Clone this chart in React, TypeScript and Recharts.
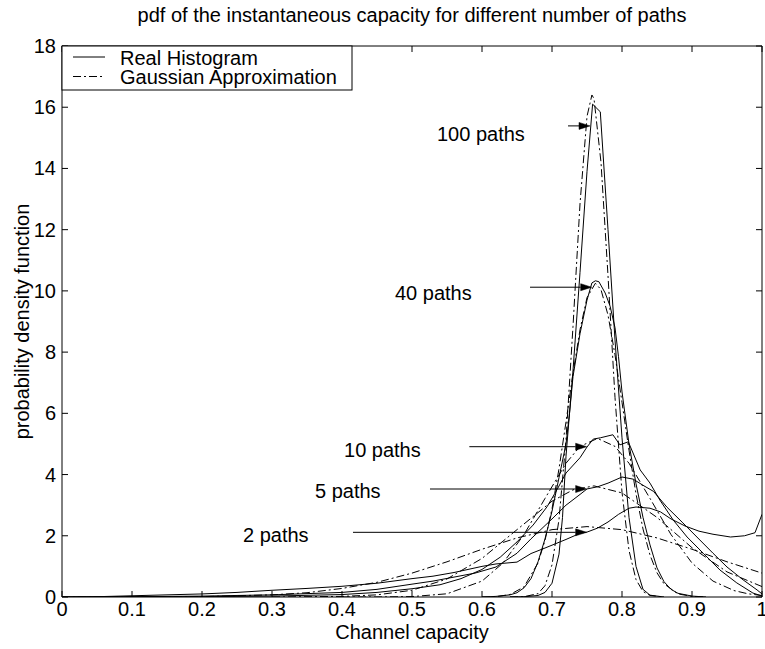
import React from 'react';
import { LineChart, Line, XAxis, YAxis, ReferenceLine, ReferenceDot } from 'recharts';

const FONT = '"Liberation Sans", Arial, Helvetica, sans-serif';

// ---------- texts / ticks ----------
const titleText = 'pdf of the instantaneous capacity for different number of paths';
const xLabelText = 'Channel capacity';
const yLabelText = 'probability density function';
const xTicks = [0, 0.1, 0.2, 0.3, 0.4, 0.5, 0.6, 0.7, 0.8, 0.9, 1];
const yTicks = [0, 2, 4, 6, 8, 10, 12, 14, 16, 18];
const legendItems = [
  { name: 'Real Histogram', dash: '' },
  { name: 'Gaussian Approximation', dash: '8 3 2 3' },
];

// ---------- real histograms (solid) ----------
const real2: [number, number][] = [
  [0, 0], [0.05, 0.01], [0.1, 0.04], [0.15, 0.07], [0.2, 0.1], [0.25, 0.15], [0.3, 0.22], [0.35, 0.28],
  [0.4, 0.35], [0.45, 0.45], [0.5, 0.6], [0.53, 0.68], [0.56, 0.8], [0.6, 1.0], [0.62, 1.08], [0.65, 1.14],
  [0.67, 1.42], [0.69, 1.6], [0.72, 1.88], [0.74, 2.08], [0.75, 2.12], [0.765, 2.25], [0.78, 2.45],
  [0.795, 2.7], [0.81, 2.9], [0.82, 2.94], [0.84, 2.9], [0.855, 2.78], [0.87, 2.55], [0.89, 2.32],
  [0.91, 2.15], [0.93, 2.05], [0.955, 1.96], [0.975, 2.0], [0.99, 2.1], [1.0, 2.7],
];
const real5: [number, number][] = [
  [0, 0], [0.1, 0.01], [0.2, 0.03], [0.3, 0.07], [0.4, 0.15], [0.45, 0.25], [0.5, 0.42], [0.53, 0.52],
  [0.56, 0.65], [0.59, 0.78], [0.62, 0.98], [0.65, 1.43], [0.67, 1.9], [0.7, 2.55], [0.72, 3.0],
  [0.74, 3.35], [0.75, 3.53], [0.765, 3.6], [0.78, 3.72], [0.8, 3.92], [0.816, 3.85], [0.83, 3.65],
  [0.845, 3.45], [0.864, 2.94], [0.887, 2.42], [0.907, 1.96], [0.93, 1.43], [0.95, 0.98], [0.973, 0.56],
  [0.993, 0.23], [1.0, 0.1],
];
const real10: [number, number][] = [
  [0, 0], [0.2, 0.01], [0.3, 0.03], [0.4, 0.08], [0.45, 0.15], [0.5, 0.27], [0.54, 0.4], [0.57, 0.6],
  [0.6, 0.9], [0.626, 1.3], [0.65, 1.8], [0.673, 2.35], [0.693, 2.95], [0.707, 3.5], [0.72, 4.05],
  [0.74, 4.55], [0.75, 4.9], [0.759, 5.16], [0.769, 5.2], [0.787, 5.3], [0.797, 4.97], [0.809, 5.07],
  [0.826, 4.15], [0.84, 3.72], [0.854, 3.17], [0.873, 2.52], [0.893, 1.96], [0.916, 1.43], [0.94, 0.88],
  [0.964, 0.46], [0.987, 0.13], [1.0, 0.03],
];
const real40: [number, number][] = [
  [0.6, 0], [0.62, 0.02], [0.64, 0.07], [0.65, 0.14], [0.66, 0.3], [0.67, 0.6], [0.68, 1.15], [0.69, 1.9],
  [0.7, 2.8], [0.71, 3.9], [0.72, 5.0], [0.725, 6.0], [0.73, 7.2], [0.74, 8.6], [0.75, 9.7], [0.757, 10.26],
  [0.762, 10.33], [0.767, 10.3], [0.776, 9.93], [0.783, 9.5], [0.79, 8.8], [0.795, 7.85], [0.8, 6.7],
  [0.81, 5.0], [0.82, 3.7], [0.83, 2.6], [0.84, 1.7], [0.85, 0.95], [0.86, 0.5], [0.87, 0.25], [0.88, 0.12],
  [0.9, 0.03], [0.92, 0],
];
const real100: [number, number][] = [
  [0.64, 0], [0.66, 0.01], [0.68, 0.05], [0.69, 0.15], [0.7, 0.45], [0.71, 1.4], [0.715, 2.6], [0.72, 4.6],
  [0.73, 7.4], [0.74, 10.6], [0.75, 13.9], [0.758, 16.1], [0.769, 15.85], [0.78, 12.0], [0.79, 8.4],
  [0.8, 5.2], [0.81, 2.6], [0.82, 1.0], [0.83, 0.25], [0.84, 0.06], [0.86, 0],
];

// ---------- gaussian approximations (dash-dot) ----------
const gauss2: [number, number][] = [
  [0, 0], [0.1, 0.002], [0.2, 0.012], [0.3, 0.07], [0.35, 0.14], [0.4, 0.28], [0.45, 0.48], [0.5, 0.78],
  [0.55, 1.15], [0.6, 1.56], [0.65, 1.93], [0.7, 2.2], [0.75, 2.3], [0.8, 2.2], [0.85, 1.93], [0.9, 1.56],
  [0.95, 1.15], [1.0, 0.78],
];
const gauss5: [number, number][] = [
  [0.3, 0], [0.4, 0.02], [0.45, 0.07], [0.5, 0.22], [0.55, 0.59], [0.6, 1.26], [0.65, 2.2], [0.7, 3.13],
  [0.73, 3.5], [0.76, 3.63], [0.8, 3.4], [0.85, 2.6], [0.9, 1.61], [0.95, 0.82], [1.0, 0.34],
];
const gauss10: [number, number][] = [
  [0.4, 0], [0.45, 0.001], [0.5, 0.014], [0.55, 0.105], [0.6, 0.52], [0.63, 1.11], [0.66, 2.04],
  [0.69, 3.22], [0.72, 4.37], [0.74, 4.92], [0.765, 5.18], [0.79, 4.92], [0.81, 4.37], [0.84, 3.22],
  [0.87, 2.04], [0.9, 1.11], [0.93, 0.52], [0.96, 0.21], [0.98, 0.105], [1.0, 0.05],
];
const gauss40: [number, number][] = [
  [0.6, 0], [0.62, 0.01], [0.64, 0.08], [0.66, 0.33], [0.68, 1.11], [0.69, 1.85], [0.7, 2.88], [0.71, 4.19],
  [0.72, 5.72], [0.73, 7.31], [0.74, 8.73], [0.75, 9.78], [0.762, 10.25], [0.77, 10.04], [0.78, 9.21],
  [0.79, 7.91], [0.8, 6.36], [0.81, 4.79], [0.82, 3.37], [0.83, 2.22], [0.84, 1.37], [0.85, 0.79],
  [0.86, 0.43], [0.88, 0.1], [0.9, 0.02], [0.92, 0],
];
const gauss100: [number, number][] = [
  [0.64, 0], [0.66, 0.01], [0.68, 0.11], [0.69, 0.37], [0.7, 1.05], [0.71, 2.53], [0.72, 5.14], [0.73, 8.84],
  [0.74, 12.84], [0.75, 15.7], [0.757, 16.4], [0.76, 16.28], [0.77, 14.2], [0.78, 10.5], [0.79, 6.52],
  [0.8, 3.42], [0.81, 1.52], [0.82, 0.57], [0.83, 0.18], [0.84, 0.05], [0.86, 0],
];

// ---------- annotations ----------
const annotationLabels = ['100 paths', '40 paths', '10 paths', '5 paths', '2 paths'];
const labelX = [0.5357, 0.4757, 0.4029, 0.3614, 0.2586];
const labelY = [14.9, 9.7, 4.574, 3.234, 1.797];
const arrowX1 = [0.7229, 0.6686, 0.5819, 0.5257, 0.4157];
const arrowX2 = [0.7543, 0.7567, 0.7495, 0.7495, 0.7495];
const arrowY = [15.39, 10.12, 4.91, 3.528, 2.113];

const DASH = '8 3 2 3';
const series = [
  { id: 'r2', pts: real2, dash: '' },
  { id: 'r5', pts: real5, dash: '' },
  { id: 'r10', pts: real10, dash: '' },
  { id: 'r40', pts: real40, dash: '' },
  { id: 'r100', pts: real100, dash: '' },
  { id: 'g2', pts: gauss2, dash: DASH },
  { id: 'g5', pts: gauss5, dash: DASH },
  { id: 'g10', pts: gauss10, dash: DASH },
  { id: 'g40', pts: gauss40, dash: DASH },
  { id: 'g100', pts: gauss100, dash: DASH },
];

const W = 765;
const H = 649;
// plot box: left 62, right 762, top 46, bottom 597 (axes take 1px each)
const MARGIN = { top: 45, right: 2, bottom: 51, left: 61 };
const TICK = 6;

const BottomTick = (p: any) => (
  <g>
    <line x1={p.x} y1={p.y} x2={p.x} y2={p.y - TICK} stroke="#000" strokeWidth={1} />
    <text x={p.x} y={p.y + 19} textAnchor="middle" fontSize={20} fontFamily={FONT} fill="#000">
      {String(p.payload.value)}
    </text>
  </g>
);
const TopTick = (p: any) => (
  <line x1={p.x} y1={p.y} x2={p.x} y2={p.y + TICK} stroke="#000" strokeWidth={1} />
);
const LeftTick = (p: any) => (
  <g>
    <line x1={p.x} y1={p.y} x2={p.x + TICK} y2={p.y} stroke="#000" strokeWidth={1} />
    <text x={p.x - 6} y={p.y + 7} textAnchor="end" fontSize={20} fontFamily={FONT} fill="#000">
      {String(p.payload.value)}
    </text>
  </g>
);
const RightTick = (p: any) => (
  <line x1={p.x} y1={p.y} x2={p.x - TICK} y2={p.y} stroke="#000" strokeWidth={1} />
);

const Arrow = (p: any) => {
  const { x1, y1, x2, y2 } = p;
  const dx = x2 - x1;
  const dy = y2 - y1;
  const len = Math.sqrt(dx * dx + dy * dy) || 1;
  const ux = dx / len;
  const uy = dy / len;
  const hl = 11;
  const hw = 3.5;
  const bx = x2 - ux * hl;
  const by = y2 - uy * hl;
  return (
    <g>
      <line x1={x1} y1={y1} x2={bx} y2={by} stroke="#000" strokeWidth={1} />
      <polygon
        points={`${x2},${y2} ${bx - uy * hw},${by + ux * hw} ${bx + uy * hw},${by - ux * hw}`}
        fill="#000"
        stroke="#000"
        strokeWidth={0.5}
      />
    </g>
  );
};

const axisCommon = {
  tickSize: 0,
  tickMargin: 0,
  tickLine: false,
  interval: 0 as const,
  axisLine: { stroke: '#000', strokeWidth: 1 },
  allowDataOverflow: true,
};

export default function App() {
  return (
    <div style={{ position: 'absolute', left: 0, top: 0, width: W, height: H, background: '#fff' }}>
      <LineChart width={W} height={H} margin={MARGIN}>
        <XAxis
          {...axisCommon}
          xAxisId="b"
          type="number"
          dataKey="x"
          domain={[0, 1]}
          ticks={xTicks}
          height={1}
          tick={(p: any) => <BottomTick {...p} />}
        />
        <XAxis
          {...axisCommon}
          xAxisId="t"
          orientation="top"
          type="number"
          dataKey="x"
          domain={[0, 1]}
          ticks={xTicks}
          height={1}
          tick={(p: any) => <TopTick {...p} />}
        />
        <YAxis
          {...axisCommon}
          yAxisId="l"
          type="number"
          domain={[0, 18]}
          ticks={yTicks}
          width={1}
          tick={(p: any) => <LeftTick {...p} />}
        />
        <YAxis
          {...axisCommon}
          yAxisId="r"
          orientation="right"
          type="number"
          domain={[0, 18]}
          ticks={yTicks}
          width={1}
          tick={(p: any) => <RightTick {...p} />}
        />
        {series.map((s) => (
          <Line
            key={s.id}
            xAxisId="b"
            yAxisId="l"
            data={s.pts.map(([x, y]) => ({ x, y }))}
            dataKey="y"
            type="linear"
            stroke="#000"
            strokeWidth={1}
            strokeDasharray={s.dash || undefined}
            dot={false}
            activeDot={false}
            isAnimationActive={false}
          />
        ))}
        {annotationLabels.map((t, i) => (
          <ReferenceLine
            key={'a' + i}
            xAxisId="b"
            yAxisId="l"
            segment={[
              { x: arrowX1[i], y: arrowY[i] },
              { x: arrowX2[i], y: arrowY[i] },
            ]}
            shape={(p: any) => <Arrow {...p} />}
          />
        ))}
        {annotationLabels.map((t, i) => (
          <ReferenceDot
            key={'l' + i}
            xAxisId="b"
            yAxisId="l"
            x={labelX[i]}
            y={labelY[i]}
            r={0}
            shape={(p: any) => (
              <text x={p.cx} y={p.cy} fontSize={20} fontFamily={FONT} fill="#000">
                {t}
              </text>
            )}
          />
        ))}
      </LineChart>
      <svg
        width={W}
        height={H}
        style={{ position: 'absolute', left: 0, top: 0, pointerEvents: 'none' }}
      >
        <text x={412} y={22} textAnchor="middle" fontSize={20} fontFamily={FONT} fill="#000">
          {titleText}
        </text>
        <text x={412} y={639} textAnchor="middle" fontSize={20} fontFamily={FONT} fill="#000">
          {xLabelText}
        </text>
        <text
          transform="translate(29,321.5) rotate(-90)"
          textAnchor="middle"
          fontSize={20}
          fontFamily={FONT}
          fill="#000"
        >
          {yLabelText}
        </text>
        <rect x={62} y={46} width={290} height={44} fill="#fff" stroke="#000" strokeWidth={1} />
        {legendItems.map((it, i) => (
          <g key={it.name}>
            <line
              x1={73}
              x2={105}
              y1={57 + i * 19.5}
              y2={57 + i * 19.5}
              stroke="#000"
              strokeWidth={1}
              strokeDasharray={it.dash || undefined}
            />
            <text x={120} y={64.5 + i * 19.5} fontSize={20} fontFamily={FONT} fill="#000">
              {it.name}
            </text>
          </g>
        ))}
      </svg>
    </div>
  );
}
